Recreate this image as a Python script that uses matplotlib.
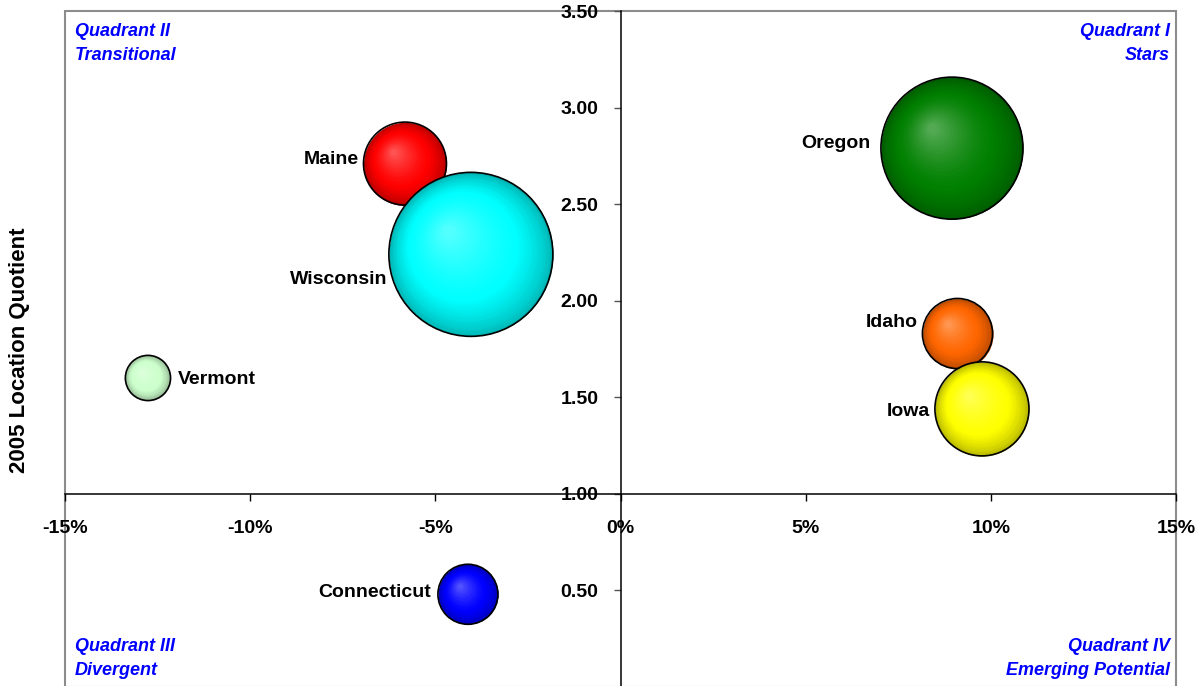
import numpy as np
import matplotlib.pyplot as plt
from matplotlib import transforms
from matplotlib.patches import Rectangle
from matplotlib.ticker import FuncFormatter
from matplotlib.colors import to_rgb

plt.rcParams['font.family'] = ['Liberation Sans', 'DejaVu Sans']

# state data: employment change (%), 2005 location quotient, employment (bubble size)
states = ['Vermont', 'Maine', 'Wisconsin', 'Connecticut', 'Idaho', 'Iowa', 'Oregon']
emp_change = [-12.76, -5.82, -4.04, -4.12, 9.10, 9.76, 8.95]
loc_quot = [1.60, 2.71, 2.24, 0.48, 1.83, 1.44, 2.79]
employment = [5100, 17200, 67200, 9000, 12300, 22100, 50400]
colors = ['#ccffcc', '#ff0000', '#00ffff', '#0000ff', '#ff6600', '#ffff00', '#008000']

x_ticks = [-15, -10, -5, 0, 5, 10, 15]
y_ticks = [0.5, 1.0, 1.5, 2.0, 2.5, 3.0, 3.5]

# label placement: side, gap from bubble edge (px), vertical shift (px, + is down)
label_side = ['right', 'left', 'left', 'left', 'left', 'left', 'left']
label_gap = [7, 5, 1, 7, 5, 5, 10]
label_shift = [2, -4, 25, -2, -11, 3, -5]

quad_text = [('Quadrant II\nTransitional', 0.009, 0.982, 'left', 'top'),
             ('Quadrant I\nStars', 0.9945, 0.982, 'right', 'top'),
             ('Quadrant III\nDivergent', 0.009, 0.012, 'left', 'bottom'),
             ('Quadrant IV\nEmerging Potential', 0.9945, 0.012, 'right', 'bottom')]

W, H, DPI = 1202, 686, 100
fig = plt.figure(figsize=(W / DPI, H / DPI), dpi=DPI)
ax = fig.add_axes([65 / W, 1 - 687 / H, (1176 - 65) / W, (687 - 11) / H])
ax.set_xlim(-15, 15)
ax.set_ylim(0, 3.5)

px = 72.0 / DPI   # pixels -> points
r_max = 82        # largest bubble radius in px
radii = [r_max * np.sqrt(v / max(employment)) for v in employment]


def mix(c1, c2, t):
    return tuple((1 - t) * a + t * b for a, b in zip(c1, c2))


n_layers = 40
for x, y, r, col in zip(emp_change, loc_quot, radii, colors):
    base = np.array(to_rgb(col))
    dark = base * 0.70
    light = mix(base, (1, 1, 1), 0.32)
    for i in range(n_layers):
        t = i / (n_layers - 1)
        rr = r * (1 - 0.93 * t)
        if t < 0.35:
            c = mix(dark, base, (t / 0.35) ** 0.7)
        else:
            c = mix(base, light, ((t - 0.35) / 0.65) ** 1.3)
        off = transforms.offset_copy(ax.transData, fig=fig,
                                     x=-0.28 * r * t * px, y=0.28 * r * t * px,
                                     units='points')
        ax.scatter([x], [y], s=(2 * rr * px) ** 2, color=[c], linewidths=0,
                   transform=off, zorder=3)
    ax.scatter([x], [y], s=(2 * r * px) ** 2, facecolors='none',
               edgecolors='black', linewidths=1.2, zorder=3)

for name, x, y, r, side, gap, shift in zip(states, emp_change, loc_quot, radii,
                                           label_side, label_gap, label_shift):
    sign = 1 if side == 'right' else -1
    ax.annotate(name, (x, y), xytext=(sign * (r + gap) * px, -shift * px),
                textcoords='offset points', ha='left' if side == 'right' else 'right',
                va='center', fontsize=14, fontweight='bold', zorder=4)

# axes crossing at 0% and LQ = 1.00
ax.spines['left'].set_position(('data', 0))
ax.spines['bottom'].set_position(('data', 1))
ax.spines['right'].set_visible(False)
ax.spines['top'].set_visible(False)
for s in ('left', 'bottom'):
    ax.spines[s].set_linewidth(1.1)
    ax.spines[s].set_zorder(2)
ax.add_patch(Rectangle((0, 0), 1, 1, transform=ax.transAxes, fill=False,
                       edgecolor='#8c8c8c', linewidth=1.5, clip_on=False))

ax.set_xticks(x_ticks)
ax.set_yticks(y_ticks)
ax.xaxis.set_major_formatter(FuncFormatter(lambda v, p: f'{v:.0f}%'))
ax.yaxis.set_major_formatter(FuncFormatter(lambda v, p: f'{v:.2f}'))
ax.tick_params(axis='x', direction='out', length=5, width=1, pad=14,
               labelsize=14)
ax.tick_params(axis='y', direction='out', length=5, width=1, pad=11,
               labelsize=14, color='#555555')
for lab in ax.get_xticklabels() + ax.get_yticklabels():
    lab.set_fontweight('bold')

for txt, qx, qy, ha, va in quad_text:
    ax.text(qx, qy, txt, transform=ax.transAxes, ha=ha, va=va, color='#0000ff',
            fontsize=13, fontweight='bold', fontstyle='italic', linespacing=1.5)

fig.text(19.5 / W, 1 - 350 / H, '2005 Location Quotient', rotation=90,
         ha='center', va='center', fontsize=16, fontweight='bold')

fig.savefig('out.png', dpi=DPI)
